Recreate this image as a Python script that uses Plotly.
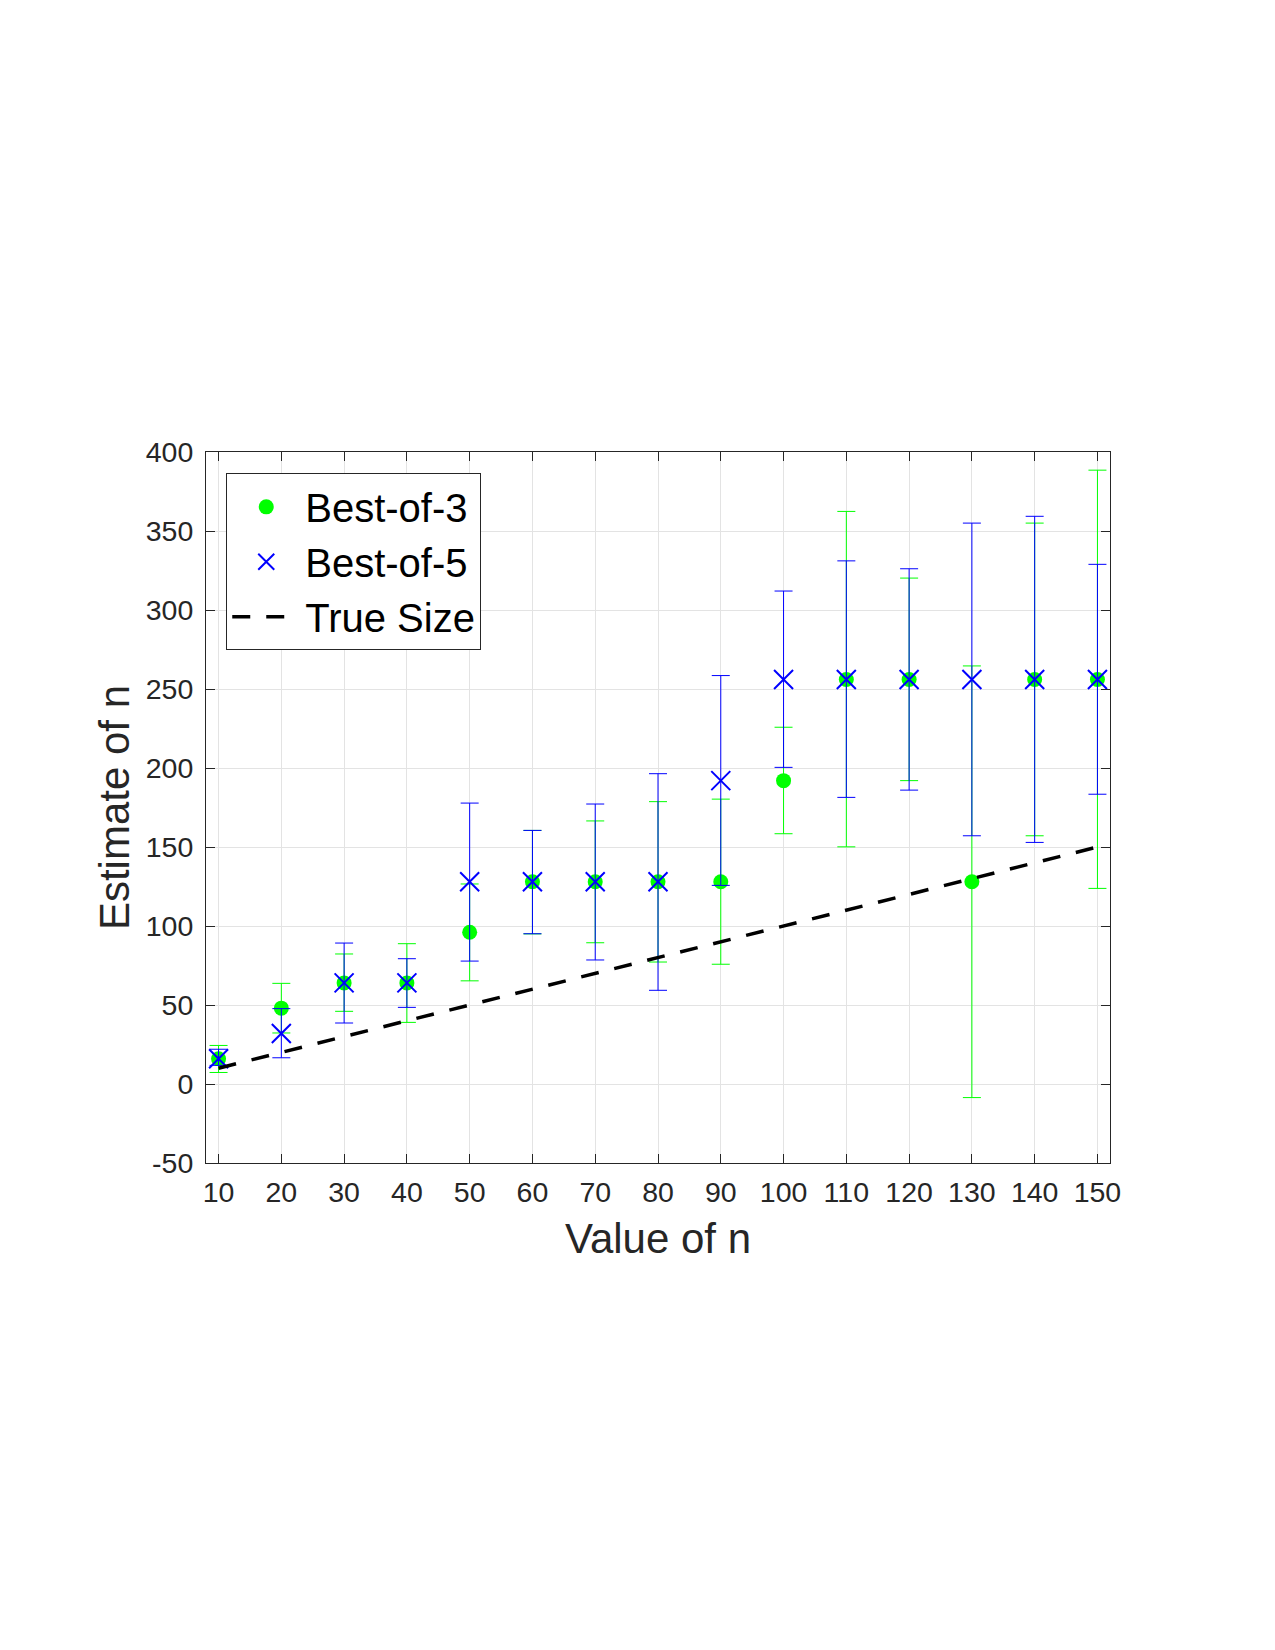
import plotly.graph_objects as go

n_values = [10, 20, 30, 40, 50, 60, 70, 80, 90, 100, 110, 120, 130, 140, 150]

# Best-of-3 estimates and error bar ends
best3 = [16, 48, 64, 64, 96, 128, 128, 128, 128, 192, 256, 256, 128, 256, 256]
best3_upper = [24.4, 63.7, 82.3, 88.8, 126.6, 160.5, 166.5, 178.7, 180.3, 225.8, 362.4, 320.2, 264.6, 355.0, 388.5]
best3_lower = [7.3, 32.3, 46.0, 39.0, 65.3, 95.0, 89.4, 77.2, 75.8, 158.4, 150.1, 192.0, -8.6, 157.1, 123.8]

# Best-of-5 estimates and error bar ends
best5 = [16, 32, 64, 64, 128, 128, 128, 128, 192, 256, 256, 256, 256, 256, 256]
best5_upper = [22.0, 47.7, 89.2, 79.3, 177.8, 160.5, 177.2, 196.4, 258.5, 312.0, 331.1, 326.1, 355.0, 359.3, 328.9]
best5_lower = [11.8, 16.6, 38.6, 48.5, 77.8, 95.1, 78.5, 59.3, 125.7, 200.4, 181.4, 186.0, 157.1, 152.9, 183.4]

true_size = [10, 20, 30, 40, 50, 60, 70, 80, 90, 100, 110, 120, 130, 140, 150]

x_ticks = [10, 20, 30, 40, 50, 60, 70, 80, 90, 100, 110, 120, 130, 140, 150]
y_ticks = [-50, 0, 50, 100, 150, 200, 250, 300, 350, 400]

GREEN = "#00FF00"
BLUE = "#0000FF"
AXC = "#262626"
FONT = "Liberation Sans, Arial, sans-serif"

fig = go.Figure()

fig.add_trace(go.Scatter(
    x=n_values, y=best3, mode="markers", name="Best-of-3",
    marker=dict(symbol="circle", size=15, color=GREEN, line=dict(width=0)),
    error_y=dict(type="data", symmetric=False,
                 array=[u - v for u, v in zip(best3_upper, best3)],
                 arrayminus=[v - l for v, l in zip(best3, best3_lower)],
                 color=GREEN, thickness=1, width=9),
))

fig.add_trace(go.Scatter(
    x=n_values, y=best5, mode="markers", name="Best-of-5",
    marker=dict(symbol="x-thin", size=19, color=BLUE, line=dict(width=2, color=BLUE)),
    error_y=dict(type="data", symmetric=False,
                 array=[u - v for u, v in zip(best5_upper, best5)],
                 arrayminus=[v - l for v, l in zip(best5, best5_lower)],
                 color=BLUE, thickness=1, width=9),
))

fig.add_trace(go.Scatter(
    x=n_values, y=true_size, mode="lines", name="True Size",
    line=dict(color="black", width=3.5, dash="18px,16px"),
))

fig.update_layout(
    width=1275, height=1650,
    margin=dict(l=206, r=165, t=452, b=487, pad=0),
    paper_bgcolor="white", plot_bgcolor="white",
    font=dict(family=FONT, color=AXC),
    showlegend=True,
    legend=dict(
        x=0.0224, y=0.970, xanchor="left", yanchor="top",
        bgcolor="white", bordercolor=AXC, borderwidth=1,
        font=dict(size=40, color="black", family=FONT),
        itemwidth=68, tracegroupgap=0,
    ),
)

fig.update_xaxes(
    range=[8, 152], tickvals=x_ticks, ticktext=[str(v) for v in x_ticks],
    showgrid=True, gridcolor="#e3e3e3", gridwidth=1,
    showline=True, linecolor=AXC, linewidth=1, mirror="ticks",
    ticks="inside", ticklen=9, tickcolor=AXC, ticklabelstandoff=4,
    tickfont=dict(size=28.5, color=AXC, family=FONT),
    title=dict(text="Value of n", font=dict(size=42, color=AXC, family=FONT), standoff=16),
    zeroline=False,
)
fig.update_yaxes(
    range=[-50, 400], tickvals=y_ticks, ticktext=[str(v) for v in y_ticks],
    showgrid=True, gridcolor="#e3e3e3", gridwidth=1,
    showline=True, linecolor=AXC, linewidth=1, mirror="ticks",
    ticks="inside", ticklen=9, tickcolor=AXC, ticklabelstandoff=6,
    tickfont=dict(size=28.5, color=AXC, family=FONT),
    title=dict(text="Estimate of n", font=dict(size=42, color=AXC, family=FONT), standoff=3),
    zeroline=False,
)

fig.write_html("out.html")
